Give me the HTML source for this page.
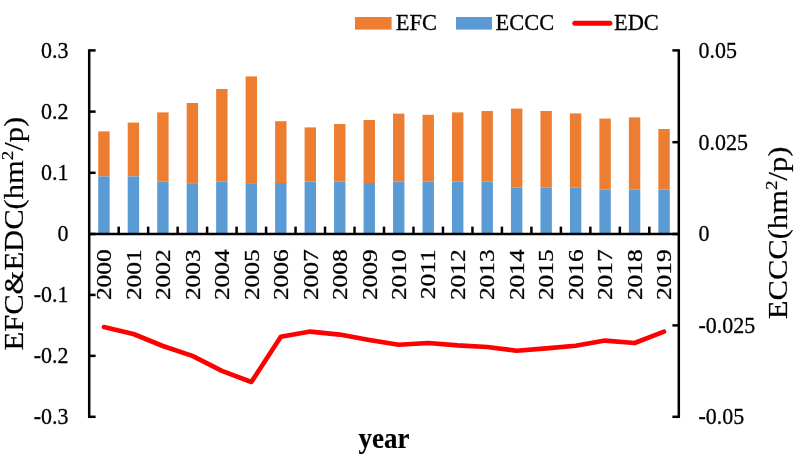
<!DOCTYPE html>
<html lang="en"><head><meta charset="utf-8"><title>EFC, ECCC and EDC by year</title>
<style>
html,body{margin:0;padding:0;background:#fff;}
body{width:800px;height:458px;overflow:hidden;}
svg{display:block;}
text{font-family:"Liberation Serif", "Times New Roman", serif;fill:#000;stroke:#000;stroke-width:0.28px;}
</style></head><body>
<svg width="800" height="458" viewBox="0 0 800 458">
<rect width="800" height="458" fill="#fff"/>
<g shape-rendering="auto">
<rect x="98.24" y="131.40" width="11.4" height="45.00" fill="#ED7D31"/>
<rect x="98.24" y="176.40" width="11.4" height="57.60" fill="#5B9BD5"/>
<rect x="127.72" y="122.60" width="11.4" height="53.80" fill="#ED7D31"/>
<rect x="127.72" y="176.40" width="11.4" height="57.60" fill="#5B9BD5"/>
<rect x="157.20" y="112.40" width="11.4" height="69.20" fill="#ED7D31"/>
<rect x="157.20" y="181.60" width="11.4" height="52.40" fill="#5B9BD5"/>
<rect x="186.68" y="103.00" width="11.4" height="80.20" fill="#ED7D31"/>
<rect x="186.68" y="183.20" width="11.4" height="50.80" fill="#5B9BD5"/>
<rect x="216.16" y="89.00" width="11.4" height="92.60" fill="#ED7D31"/>
<rect x="216.16" y="181.60" width="11.4" height="52.40" fill="#5B9BD5"/>
<rect x="245.64" y="76.40" width="11.4" height="106.80" fill="#ED7D31"/>
<rect x="245.64" y="183.20" width="11.4" height="50.80" fill="#5B9BD5"/>
<rect x="275.12" y="121.20" width="11.4" height="61.80" fill="#ED7D31"/>
<rect x="275.12" y="183.00" width="11.4" height="51.00" fill="#5B9BD5"/>
<rect x="304.60" y="127.40" width="11.4" height="54.20" fill="#ED7D31"/>
<rect x="304.60" y="181.60" width="11.4" height="52.40" fill="#5B9BD5"/>
<rect x="334.08" y="124.00" width="11.4" height="57.60" fill="#ED7D31"/>
<rect x="334.08" y="181.60" width="11.4" height="52.40" fill="#5B9BD5"/>
<rect x="363.56" y="120.00" width="11.4" height="63.00" fill="#ED7D31"/>
<rect x="363.56" y="183.00" width="11.4" height="51.00" fill="#5B9BD5"/>
<rect x="393.04" y="113.60" width="11.4" height="68.00" fill="#ED7D31"/>
<rect x="393.04" y="181.60" width="11.4" height="52.40" fill="#5B9BD5"/>
<rect x="422.52" y="114.80" width="11.4" height="66.80" fill="#ED7D31"/>
<rect x="422.52" y="181.60" width="11.4" height="52.40" fill="#5B9BD5"/>
<rect x="452.00" y="112.40" width="11.4" height="69.20" fill="#ED7D31"/>
<rect x="452.00" y="181.60" width="11.4" height="52.40" fill="#5B9BD5"/>
<rect x="481.48" y="111.00" width="11.4" height="70.60" fill="#ED7D31"/>
<rect x="481.48" y="181.60" width="11.4" height="52.40" fill="#5B9BD5"/>
<rect x="510.96" y="108.60" width="11.4" height="79.00" fill="#ED7D31"/>
<rect x="510.96" y="187.60" width="11.4" height="46.40" fill="#5B9BD5"/>
<rect x="540.44" y="111.00" width="11.4" height="76.60" fill="#ED7D31"/>
<rect x="540.44" y="187.60" width="11.4" height="46.40" fill="#5B9BD5"/>
<rect x="569.92" y="113.40" width="11.4" height="74.20" fill="#ED7D31"/>
<rect x="569.92" y="187.60" width="11.4" height="46.40" fill="#5B9BD5"/>
<rect x="599.40" y="118.60" width="11.4" height="71.00" fill="#ED7D31"/>
<rect x="599.40" y="189.60" width="11.4" height="44.40" fill="#5B9BD5"/>
<rect x="628.88" y="117.40" width="11.4" height="72.20" fill="#ED7D31"/>
<rect x="628.88" y="189.60" width="11.4" height="44.40" fill="#5B9BD5"/>
<rect x="658.36" y="129.00" width="11.4" height="60.60" fill="#ED7D31"/>
<rect x="658.36" y="189.60" width="11.4" height="44.40" fill="#5B9BD5"/>
</g>
<g stroke="#000" stroke-width="2.5" fill="none">
<path d="M89.2 49.15 V418.05"/>
<path d="M678.8 49.15 V418.05"/>
<path d="M89.2 234.0 H678.8"/>
<path d="M89.2 50.40 h6.4"/>
<path d="M89.2 111.60 h6.4"/>
<path d="M89.2 172.80 h6.4"/>
<path d="M89.2 234.00 h6.4"/>
<path d="M89.2 294.93 h6.4"/>
<path d="M89.2 355.87 h6.4"/>
<path d="M89.2 416.80 h6.4"/>
<path d="M678.8 50.40 h-6.4"/>
<path d="M678.8 142.20 h-6.4"/>
<path d="M678.8 234.00 h-6.4"/>
<path d="M678.8 325.40 h-6.4"/>
<path d="M678.8 416.80 h-6.4"/>
<path d="M118.68 234.0 v-7.4"/>
<path d="M148.16 234.0 v-7.4"/>
<path d="M177.64 234.0 v-7.4"/>
<path d="M207.12 234.0 v-7.4"/>
<path d="M236.60 234.0 v-7.4"/>
<path d="M266.08 234.0 v-7.4"/>
<path d="M295.56 234.0 v-7.4"/>
<path d="M325.04 234.0 v-7.4"/>
<path d="M354.52 234.0 v-7.4"/>
<path d="M384.00 234.0 v-7.4"/>
<path d="M413.48 234.0 v-7.4"/>
<path d="M442.96 234.0 v-7.4"/>
<path d="M472.44 234.0 v-7.4"/>
<path d="M501.92 234.0 v-7.4"/>
<path d="M531.40 234.0 v-7.4"/>
<path d="M560.88 234.0 v-7.4"/>
<path d="M590.36 234.0 v-7.4"/>
<path d="M619.84 234.0 v-7.4"/>
<path d="M649.32 234.0 v-7.4"/>
</g>
<polyline points="103.94,327.10 133.42,334.00 162.90,346.00 192.38,355.90 221.86,370.90 251.34,382.00 280.82,336.80 310.30,331.60 339.78,334.60 369.26,340.00 398.74,344.80 428.22,343.00 457.70,345.40 487.18,347.00 516.66,350.80 546.14,348.40 575.62,345.70 605.10,340.60 634.58,343.00 664.06,331.60" fill="none" stroke="#FF0000" stroke-width="4.6" stroke-linecap="round" stroke-linejoin="round"/>
<text transform="translate(68.50 57.80) scale(1 1.075)" font-size="22" text-anchor="end" font-weight="normal">0.3</text>
<text transform="translate(68.50 119.00) scale(1 1.075)" font-size="22" text-anchor="end" font-weight="normal">0.2</text>
<text transform="translate(68.50 180.20) scale(1 1.075)" font-size="22" text-anchor="end" font-weight="normal">0.1</text>
<text transform="translate(68.50 241.40) scale(1 1.075)" font-size="22" text-anchor="end" font-weight="normal">0</text>
<text transform="translate(68.50 302.34) scale(1 1.075)" font-size="22" text-anchor="end" font-weight="normal">-0.1</text>
<text transform="translate(68.50 363.27) scale(1 1.075)" font-size="22" text-anchor="end" font-weight="normal">-0.2</text>
<text transform="translate(68.50 424.20) scale(1 1.075)" font-size="22" text-anchor="end" font-weight="normal">-0.3</text>
<text transform="translate(698.50 57.80) scale(1 1.075)" font-size="22" text-anchor="start" font-weight="normal">0.05</text>
<text transform="translate(698.50 149.60) scale(1 1.075)" font-size="22" text-anchor="start" font-weight="normal">0.025</text>
<text transform="translate(698.50 241.40) scale(1 1.075)" font-size="22" text-anchor="start" font-weight="normal">0</text>
<text transform="translate(698.50 332.80) scale(1 1.075)" font-size="22" text-anchor="start" font-weight="normal">-0.025</text>
<text transform="translate(698.50 424.20) scale(1 1.075)" font-size="22" text-anchor="start" font-weight="normal">-0.05</text>
<text transform="translate(111.20 249.3) scale(1 1.155) rotate(-90)" font-size="22" text-anchor="end">2000</text>
<text transform="translate(140.68 249.3) scale(1 1.155) rotate(-90)" font-size="22" text-anchor="end">2001</text>
<text transform="translate(170.16 249.3) scale(1 1.155) rotate(-90)" font-size="22" text-anchor="end">2002</text>
<text transform="translate(199.64 249.3) scale(1 1.155) rotate(-90)" font-size="22" text-anchor="end">2003</text>
<text transform="translate(229.12 249.3) scale(1 1.155) rotate(-90)" font-size="22" text-anchor="end">2004</text>
<text transform="translate(258.60 249.3) scale(1 1.155) rotate(-90)" font-size="22" text-anchor="end">2005</text>
<text transform="translate(288.08 249.3) scale(1 1.155) rotate(-90)" font-size="22" text-anchor="end">2006</text>
<text transform="translate(317.56 249.3) scale(1 1.155) rotate(-90)" font-size="22" text-anchor="end">2007</text>
<text transform="translate(347.04 249.3) scale(1 1.155) rotate(-90)" font-size="22" text-anchor="end">2008</text>
<text transform="translate(376.52 249.3) scale(1 1.155) rotate(-90)" font-size="22" text-anchor="end">2009</text>
<text transform="translate(406.00 249.3) scale(1 1.155) rotate(-90)" font-size="22" text-anchor="end">2010</text>
<text transform="translate(435.48 249.3) scale(1 1.155) rotate(-90)" font-size="22" text-anchor="end">2011</text>
<text transform="translate(464.96 249.3) scale(1 1.155) rotate(-90)" font-size="22" text-anchor="end">2012</text>
<text transform="translate(494.44 249.3) scale(1 1.155) rotate(-90)" font-size="22" text-anchor="end">2013</text>
<text transform="translate(523.92 249.3) scale(1 1.155) rotate(-90)" font-size="22" text-anchor="end">2014</text>
<text transform="translate(553.40 249.3) scale(1 1.155) rotate(-90)" font-size="22" text-anchor="end">2015</text>
<text transform="translate(582.88 249.3) scale(1 1.155) rotate(-90)" font-size="22" text-anchor="end">2016</text>
<text transform="translate(612.36 249.3) scale(1 1.155) rotate(-90)" font-size="22" text-anchor="end">2017</text>
<text transform="translate(641.84 249.3) scale(1 1.155) rotate(-90)" font-size="22" text-anchor="end">2018</text>
<text transform="translate(671.32 249.3) scale(1 1.155) rotate(-90)" font-size="22" text-anchor="end">2019</text>
<text transform="translate(22.8 233.6) scale(1 1.133) rotate(-90)" font-size="27" text-anchor="middle" style="stroke-width:0.2px">EFC&amp;EDC(hm<tspan font-size="16.7" dy="-9.7">2</tspan><tspan dy="9.7">/p)</tspan></text>
<text transform="translate(787.0 232.9) scale(1 1.133) rotate(-90)" font-size="27" text-anchor="middle" style="stroke-width:0.2px">ECCC(hm<tspan font-size="16.7" dy="-9.7">2</tspan><tspan dy="9.7">/p)</tspan></text>
<text transform="translate(384 447.6) scale(1 1.075)" font-size="27" text-anchor="middle" font-weight="bold" style="stroke-width:0.15px">year</text>
<rect x="355" y="17" width="36.6" height="12.6" fill="#ED7D31"/>
<text transform="translate(395.80 30.40) scale(1 1.05)" font-size="22.4" text-anchor="start" font-weight="normal">EFC</text>
<rect x="456" y="17" width="36" height="12.6" fill="#5B9BD5"/>
<text transform="translate(495.60 30.40) scale(1 1.05)" font-size="22.4" text-anchor="start" font-weight="normal">ECCC</text>
<path d="M574.8 23.3 H609.9" stroke="#FF0000" stroke-width="5" stroke-linecap="round" fill="none"/>
<text transform="translate(614.00 30.40) scale(1 1.05)" font-size="22.4" text-anchor="start" font-weight="normal">EDC</text>
</svg></body></html>
